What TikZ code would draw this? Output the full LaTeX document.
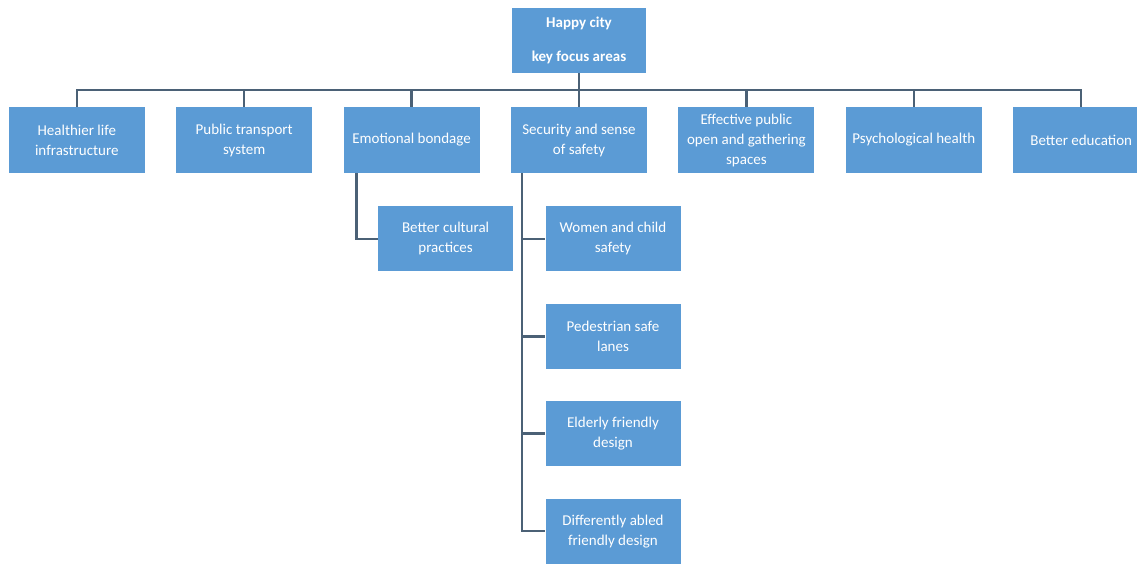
\documentclass[tikz,border=0pt]{standalone}
\usepackage{fontspec}
\setmainfont{Carlito}
\usepackage{xcolor}
\usetikzlibrary{positioning}
\definecolor{boxblue}{HTML}{5B9BD5}
\definecolor{linkgray}{HTML}{4B6176}

\begin{document}
\begin{tikzpicture}[
  x=1pt, y=1pt,
  node distance=34pt and 31pt,
  block/.style={rectangle, fill=boxblue, text=white, minimum width=136pt, minimum height=66pt, inner sep=2pt, align=center, font=\fontsize{15}{20}\selectfont},
  rootblock/.style={block, minimum width=134pt, minimum height=65pt, font=\fontsize{15}{20}\selectfont\bfseries},
  subblock/.style={block, minimum width=135pt, minimum height=65pt},
  link/.style={draw=linkgray, line width=2.5pt}
]
\useasboundingbox (0,0) rectangle (1137,-563);

% Root
\node[rootblock] (root) at (579,-40.5) {Happy city\\[14pt]key focus areas};

% Focus areas
\node[block] (security) at (579,-140) {Security and sense\\of safety};
\node[block, left=of security] (emotion) {Emotional bondage};
\node[block, left=of emotion] (transport) {Public transport\\system};
\node[block, left=of transport] (health) {Healthier life\\infrastructure};
\node[block, right=of security] (openspace) {Effective public\\open and gathering\\spaces};
\node[block, right=of openspace] (psych) {Psychological health};
\node[block, right=of psych] (education) {Better education};

% Sub areas
\node[subblock, below=33pt of emotion, xshift=34pt] (culture) {Better cultural\\practices};
\node[subblock, below=33pt of security, xshift=34pt] (women) {Women and child\\safety};
\node[subblock, below=32pt of women] (pedestrian) {Pedestrian safe\\lanes};
\node[subblock, below=32pt of pedestrian] (elderly) {Elderly friendly\\design};
\node[subblock, below=32pt of elderly] (abled) {Differently abled\\friendly design};

% Connectors
\foreach \n in {health,transport,emotion,security,openspace,psych,education}
  \draw[link] (root.south) -- ++(0,-17) -| (\n.north);
\draw[link] ([xshift=13pt]emotion.south west) |- (culture.west);
\foreach \n in {women,pedestrian,elderly,abled}
  \draw[link] ([xshift=11pt]security.south west) |- (\n.west);

\end{tikzpicture}
\end{document}
